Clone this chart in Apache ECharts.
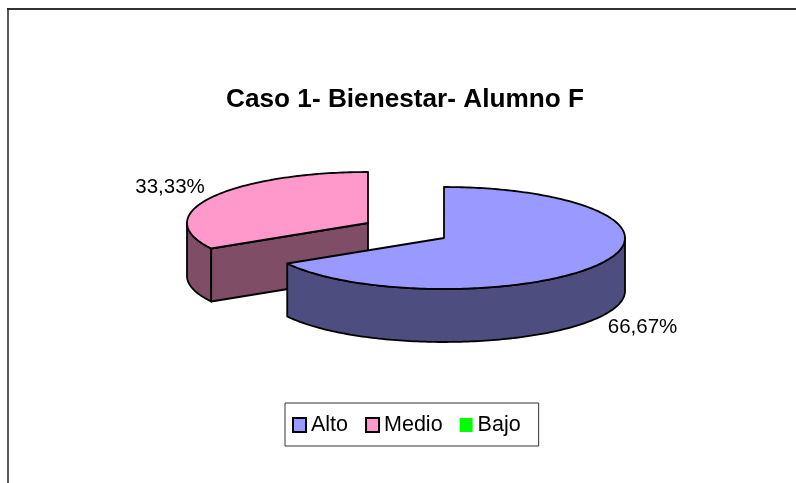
<!DOCTYPE html>
<html>
<head>
<meta charset="utf-8">
<title>Caso 1- Bienestar- Alumno F</title>
<script src="https://cdn.jsdelivr.net/npm/echarts@6/dist/echarts.min.js"></script>
<style>
  html, body { margin: 0; padding: 0; background: #fff; }
  #chart { width: 796px; height: 483px; }
</style>
</head>
<body>
<div id="chart"></div>
<script>
var categories = ['Alto', 'Medio', 'Bajo'];
var values = [66.67, 33.33, 0];

var topColors = ['#9999FF', '#FF99CC', '#00FF00'];
var sideColors = ['#4D4D80', '#804D66', '#008000'];
// where each exploded slice sits, and where its label goes
var centers = [[444, 238], [368, 223], [406, 230]];
var labelPos = [[642.5, 327], [170, 187], [0, 0]];

var rx = 181;
var ry = 51;
var depth = 53;
var total = values.reduce(function (a, b) { return a + b; }, 0);

// angle is clockwise from 12 o'clock, squashed onto the ellipse
function rim(c, t, dy) {
  return [c[0] + rx * Math.sin(t), c[1] - ry * Math.cos(t) + (dy || 0)];
}

function arc(c, from, to, dy) {
  var pts = [];
  var n = Math.max(2, Math.ceil(Math.abs(to - from) / 0.02));
  for (var i = 0; i <= n; i++) {
    pts.push(rim(c, from + (to - from) * i / n, dy));
  }
  return pts;
}

function poly(points, fill) {
  return {
    type: 'polygon',
    shape: { points: points },
    style: { fill: fill, stroke: '#000', lineWidth: 1.8, lineJoin: 'round' }
  };
}

function sliceRenderer(index) {
  return function (params, api) {
    var value = api.value(0);
    if (!value) return null;
    var start = 0;
    for (var i = 0; i < index; i++) start += values[i];
    var a0 = start / total * Math.PI * 2;
    var a1 = (start + value) / total * Math.PI * 2;
    var c = centers[index];
    var children = [];

    // outer wall, only the part that faces the viewer (90deg..270deg)
    var w0 = Math.max(a0, Math.PI / 2);
    var w1 = Math.min(a1, Math.PI * 1.5);
    if (w1 > w0) {
      children.push(poly(arc(c, w0, w1, 0).concat(arc(c, w1, w0, depth)), sideColors[index]));
    }
    // cut face turned to the viewer
    if (a0 > Math.PI) {
      var p = rim(c, a0);
      children.push(poly([c, p, [p[0], p[1] + depth], [c[0], c[1] + depth]], sideColors[index]));
    }
    // top
    children.push(poly([c].concat(arc(c, a0, a1, 0)), topColors[index]));
    // label
    children.push({
      type: 'text',
      x: labelPos[index][0],
      y: labelPos[index][1],
      style: {
        text: value.toFixed(2).replace('.', ',') + '%',
        fill: '#000',
        font: '20.5px "Liberation Sans", Arial, sans-serif',
        align: 'center',
        verticalAlign: 'middle'
      }
    });
    return { type: 'group', children: children };
  };
}

var option = {
  animation: false,
  backgroundColor: '#fff',
  title: {
    text: 'Caso 1- Bienestar- Alumno F',
    left: 400,
    top: 95,
    textAlign: 'center',
    textVerticalAlign: 'middle',
    textStyle: {
      color: '#000',
      fontFamily: '"Liberation Sans", Arial, sans-serif',
      fontSize: 26.2,
      fontWeight: 'bold'
    }
  },
  legend: {
    left: 285,
    top: 403,
    orient: 'horizontal',
    padding: [11, 18, 10, 7],
    itemGap: 17,
    itemWidth: 13,
    itemHeight: 14,
    borderColor: '#333',
    borderWidth: 1,
    icon: 'rect',
    textStyle: {
      color: '#000',
      fontFamily: '"Liberation Sans", Arial, sans-serif',
      fontSize: 21.5
    },
    data: categories.map(function (name, i) {
      return {
        name: name,
        itemStyle: {
          color: topColors[i],
          borderColor: values[i] ? '#000' : 'transparent',
          borderWidth: values[i] ? 2 : 0
        }
      };
    })
  },
  graphic: [{
    // frame only shows on the top and left, it runs off the page
    type: 'line',
    shape: { x1: 7, y1: 9, x2: 796, y2: 9 },
    style: { stroke: '#333', lineWidth: 2 },
    silent: true
  }, {
    type: 'line',
    shape: { x1: 8, y1: 8, x2: 8, y2: 483 },
    style: { stroke: '#222', lineWidth: 1.5 },
    silent: true
  }],
  series: categories.map(function (name, i) {
    return {
      name: name,
      type: 'custom',
      coordinateSystem: 'none',
      renderItem: sliceRenderer(i),
      data: [[values[i]]],
      itemStyle: { color: topColors[i] },
      z: 10 - i
    };
  })
};

var chart = echarts.init(document.getElementById('chart'), null, { renderer: 'canvas' });
chart.setOption(option);
</script>
</body>
</html>
